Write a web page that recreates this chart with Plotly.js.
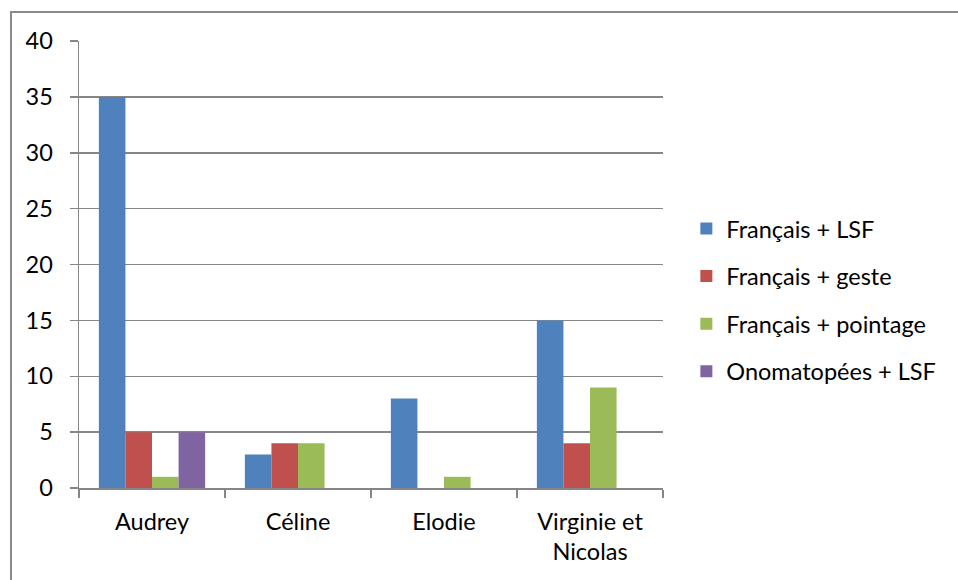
<!DOCTYPE html>
<html>
<head>
<meta charset="utf-8">
<script src="https://cdn.plot.ly/plotly-3.0.1.min.js"></script>
<style>
html,body{margin:0;padding:0;background:#fff;overflow:hidden;}
#chart{width:958px;height:580px;position:relative;}
#frame{position:absolute;left:10px;top:11px;width:1000px;height:1000px;border:2px solid #8a8a8a;box-sizing:border-box;pointer-events:none;}
</style>
</head>
<body>
<div id="chart"></div>
<div id="frame"></div>
<script>
const categories = ["Audrey", "Céline", "Elodie", "Virginie et<br>Nicolas"];
const seriesNames = ["Français + LSF", "Français + geste", "Français + pointage", "Onomatopées + LSF"];
const francaisLSF = [35, 3, 8, 15];
const francaisGeste = [5, 4, null, 4];
const francaisPointage = [1, 4, 1, 9];
const onomatopeesLSF = [5, null, null, null];
const colors = ["#4F81BD", "#C0504D", "#9BBB59", "#8064A2"];
const yTicks = [0, 5, 10, 15, 20, 25, 30, 35, 40];

const values = [francaisLSF, francaisGeste, francaisPointage, onomatopeesLSF];
const traces = values.map((v, i) => ({
  type: "bar",
  x: categories,
  y: v,
  name: seriesNames[i],
  legendgroup: "g" + i,
  marker: {color: colors[i], line: {width: 0}},
  hoverinfo: "x+y+name"
}));

const fam = "Lato, 'Open Sans', sans-serif";
const layout = {
  width: 958, height: 580,
  margin: {l: 79, r: 295, t: 41, b: 92, pad: 0},
  paper_bgcolor: "#fff", plot_bgcolor: "#fff",
  font: {family: fam, size: 23.5, color: "#000"},
  barmode: "group",
  bargap: 0.272,
  bargroupgap: 0,
  showlegend: true,
  legend: {
    x: 1.04, xanchor: "left", y: 0.42, yanchor: "middle",
    font: {family: fam, size: 23.5, color: "#000"},
    tracegroupgap: 14,
    bgcolor: "rgba(0,0,0,0)"
  },
  xaxis: {
    type: "category",
    showgrid: false,
    showline: true, linecolor: "#868686", linewidth: 1.5,
    ticks: "outside", ticklen: 8, tickcolor: "#868686", tickwidth: 1.5,
    tickson: "boundaries",
    ticklabelstandoff: 12,
    tickfont: {family: fam, size: 23.5, color: "#000"},
    zeroline: false
  },
  yaxis: {
    range: [0, 40],
    tickvals: yTicks,
    ticktext: yTicks.map(String),
    showgrid: true, gridcolor: "#868686", gridwidth: 1.5,
    showline: true, linecolor: "#868686", linewidth: 1.5,
    ticks: "outside", ticklen: 8, tickcolor: "#868686", tickwidth: 1.5,
    ticklabelstandoff: 12,
    tickfont: {family: fam, size: 23.5, color: "#000"},
    zeroline: false
  }
};

Plotly.newPlot("chart", traces, layout, {displayModeBar: false, staticPlot: true});
</script>
</body>
</html>
